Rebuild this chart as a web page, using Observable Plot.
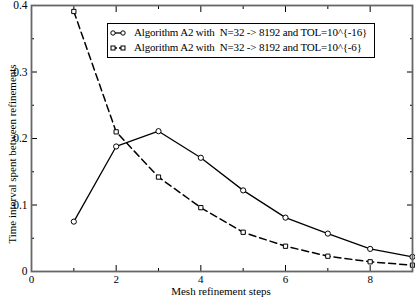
<!DOCTYPE html>
<html>
<head>
<meta charset="utf-8">
<script src="https://cdn.jsdelivr.net/npm/d3@7"></script>
<script src="https://cdn.jsdelivr.net/npm/@observablehq/plot@0.6"></script>
<style>
  html, body { margin: 0; padding: 0; background: #fff; }
  #wrap { position: relative; width: 415px; height: 297px; overflow: hidden; font-family: "Liberation Serif", "DejaVu Serif", serif; }
  #legend { position: absolute; left: 107px; top: 23px; width: 266px; height: 32px; border: 1px solid #000; background: #fff; font-size: 11px; letter-spacing: -0.18px; line-height: 15px; padding-top: 1px; box-sizing: content-box; overflow: hidden; }
  #legend .row { display: flex; align-items: center; height: 15px; white-space: pre; }
  #legend svg { flex: 0 0 auto; margin-left: 2px; margin-right: 8px; }
  #ylabel { position: absolute; left: 12px; top: 154px; transform: translate(-50%, -50%) rotate(-90deg); white-space: nowrap; font-size: 11px; line-height: 12px; }
  #xlabel { position: absolute; left: 221px; top: 286px; transform: translateX(-50%); white-space: nowrap; font-size: 11px; line-height: 11px; }
</style>
</head>
<body>
<div id="wrap"><div id="chart"></div><div id="legend"></div><div id="ylabel"></div><div id="xlabel"></div></div>
<script>
const steps = [1, 2, 3, 4, 5, 6, 7, 8, 9];
const tol16 = [0.075, 0.188, 0.211, 0.171, 0.122, 0.081, 0.057, 0.034, 0.022];
const tol6 = [0.391, 0.210, 0.142, 0.096, 0.059, 0.038, 0.023, 0.0146, 0.0095];
const seriesNames = [
  "Algorithm A2 with  N=32 -> 8192 and TOL=10^{-16}",
  "Algorithm A2 with  N=32 -> 8192 and TOL=10^{-6}"
];
const xTitle = "Mesh refinement steps";
const yTitle = "Time interval spent between refinements";
const xMajor = [0, 2, 4, 6, 8];
const xMinor = [1, 3, 5, 7, 9];
const yMajor = [0, 0.1, 0.2, 0.3, 0.4];
const yMinor = [0.05, 0.15, 0.25, 0.35];

const d1 = steps.map((s, i) => ({x: s, y: tol16[i]}));
const d2 = steps.map((s, i) => ({x: s, y: tol6[i]}));

const chart = Plot.plot({
  width: 415,
  height: 297,
  marginLeft: 31,
  marginRight: 3,
  marginTop: 5,
  marginBottom: 26,
  style: {fontFamily: "'Liberation Serif', serif", fontSize: "11.5px", background: "#fff", overflow: "visible"},
  x: {domain: [0, 9]},
  y: {domain: [0, 0.4]},
  marks: [
    Plot.line(d2, {x: "x", y: "y", stroke: "#000", strokeWidth: 1.5, strokeDasharray: "7,4"}),
    Plot.line(d1, {x: "x", y: "y", stroke: "#000", strokeWidth: 1.3}),
    Plot.dot(d1, {x: "x", y: "y", r: 2.6, stroke: "#000", fill: "#fff", strokeWidth: 1}),
    Plot.dot(d2, {x: "x", y: "y", symbol: "square", r: 2.4, stroke: "#000", fill: "#fff", strokeWidth: 1}),
    Plot.axisX(xMajor, {anchor: "bottom", tickSize: 0, tickPadding: 4, fontSize: 11, label: null}),
    Plot.axisX(xMajor, {anchor: "bottom", tickSize: -6, text: null, label: null}),
    Plot.axisX(xMinor, {anchor: "bottom", tickSize: -3, text: null, label: null}),
    Plot.axisX(xMajor, {anchor: "top", tickSize: -6, text: null, label: null}),
    Plot.axisX(xMinor, {anchor: "top", tickSize: -3, text: null, label: null}),
    Plot.axisY(yMajor, {anchor: "left", tickSize: 0, tickPadding: 4, fontSize: 11.5, tickFormat: d => String(+d.toFixed(2)), label: null}),
    Plot.axisY(yMajor, {anchor: "left", tickSize: -6, text: null, label: null}),
    Plot.axisY(yMinor, {anchor: "left", tickSize: -3, text: null, label: null}),
    Plot.axisY(yMajor, {anchor: "right", tickSize: -6, text: null, label: null}),
    Plot.axisY(yMinor, {anchor: "right", tickSize: -3, text: null, label: null}),
    Plot.frame({stroke: "#666", strokeWidth: 1.8})
  ]
});
document.getElementById("chart").appendChild(chart);
d3.select(chart).selectAll("text").style("font-family", "'Liberation Serif', serif");

d3.select("#ylabel").text(yTitle);
d3.select("#xlabel").text(xTitle);

// legend
const legend = d3.select("#legend");
seriesNames.forEach((name, i) => {
  const row = legend.append("div").attr("class", "row");
  const svg = row.append("svg").attr("width", 16).attr("height", 10);
  svg.append("line").attr("x1", 3).attr("x2", 13).attr("y1", 5).attr("y2", 5)
    .attr("stroke", "#000").attr("stroke-width", 1.3)
    .attr("stroke-dasharray", i === 1 ? "4,2" : null);
  if (i === 0) {
    [3, 13].forEach(cx => svg.append("circle").attr("cx", cx).attr("cy", 5).attr("r", 2.2)
      .attr("fill", "#fff").attr("stroke", "#000"));
  } else {
    [3, 13].forEach(cx => svg.append("rect").attr("x", cx - 2).attr("y", 3).attr("width", 4).attr("height", 4)
      .attr("fill", "#fff").attr("stroke", "#000"));
  }
  row.append("span").text(name);
});
</script>
</body>
</html>
